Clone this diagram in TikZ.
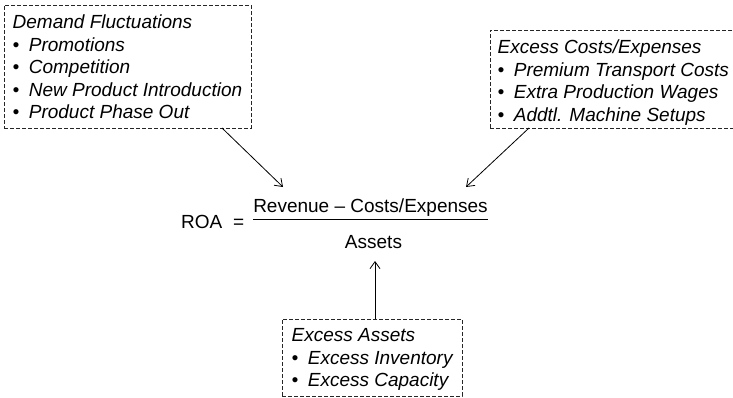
\documentclass[tikz,border=0pt]{standalone}
\usepackage{fontspec}
\setmainfont{Liberation Sans}
\usetikzlibrary{arrows.meta,fit}
\begin{document}
\begin{tikzpicture}[x=1pt,y=-1pt,
  dbox/.style={draw=black!85,line width=0.8pt,dash pattern=on 4pt off 2pt,inner sep=0pt},
  btext/.style={anchor=north west,inner sep=0pt,align=left,font=\fontsize{19}{22.5}\selectfont\itshape},
  ftext/.style={anchor=base,inner sep=0pt,font=\fontsize{19}{22.5}\selectfont},
  arr/.style={line width=0.8pt,-{Straight Barb[length=7pt,width=10pt,line width=0.8pt]}}]
\useasboundingbox (0,0) rectangle (733,397);
\newcommand{\bl}{\textbullet\hspace{9.5pt}}
% boxes
\node[dbox,fit={(4,5)(251,128)}] (b1) {};
\node[dbox,fit={(490,30)(745,128)}] (b2) {};
\node[dbox,fit={(282,319)(462,396)}] (b3) {};
% box texts
\node[btext] (t1) at (12.5,14.5) {\rule{0pt}{14pt}Demand Fluctuations\\\bl Promotions\\\bl Competition\\\bl New Product Introduction\\\bl Product Phase Out};
\node[btext] (t2) at (497.5,39.5) {\rule{0pt}{14pt}Excess Costs/Expenses\\\bl Premium Transport Costs\\\bl Extra Production Wages\\\bl Addtl. Machine Setups};
\node[btext] (t3) at (291.5,327.5) {\rule{0pt}{14pt}Excess Assets\\\bl Excess Inventory\\\bl Excess Capacity};
% formula
\node[ftext,anchor=base west] (roa) at (181,228) {ROA};
\node[ftext,anchor=base west] (eq) at (233,228) {=};
\node[ftext] (num) at (370.5,212) {Revenue – Costs/Expenses};
\node[ftext] (den) at (373.5,248) {Assets};
\coordinate (fl) at (253,219);
\coordinate (fr) at (488,219);
\draw[line width=0.8pt] (fl) -- (fr);
% arrows
\coordinate (s1) at (222,128);
\coordinate (e1) at (283,187);
\coordinate (s2) at (529,128);
\coordinate (e2) at (466,187);
\coordinate (s3) at (375,319);
\coordinate (e3) at (375,261);
\draw[arr] (s1) -- (e1);
\draw[arr] (s2) -- (e2);
\draw[arr] (s3) -- (e3);
\end{tikzpicture}
\end{document}
